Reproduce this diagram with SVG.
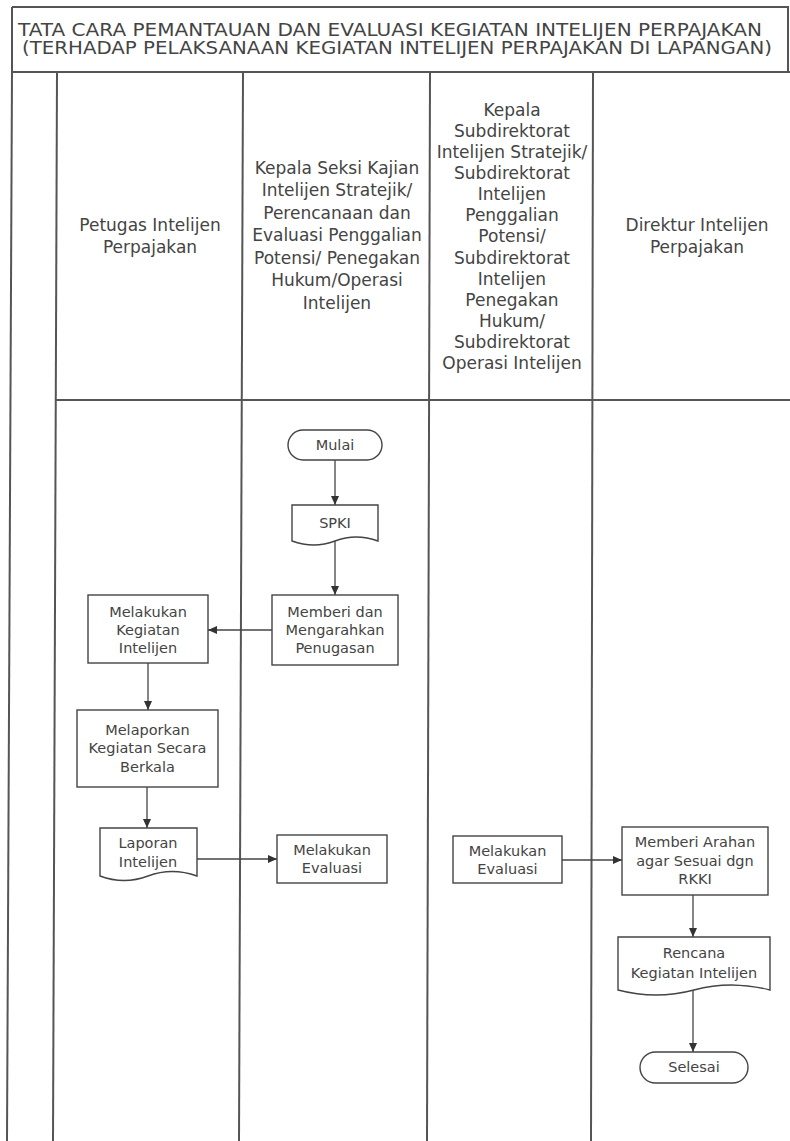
<svg xmlns="http://www.w3.org/2000/svg" width="790" height="1141" viewBox="0 0 790 1141">
  <style>
    .frame { fill: none; stroke: #555; stroke-width: 2; }
    .lane { fill: none; stroke: #555; stroke-width: 2; }
    .title { font-family: "DejaVu Sans", "Liberation Sans", sans-serif; font-size: 17px; fill: #444; }
    .head { font-family: "DejaVu Sans", "Liberation Sans", sans-serif; font-size: 17px; fill: #444; text-anchor: middle; }
    .shape { fill: #fff; stroke: #444; stroke-width: 1.4; }
    .lbl { font-family: "DejaVu Sans", "Liberation Sans", sans-serif; font-size: 14.5px; fill: #444; text-anchor: middle; }
    .conn { fill: none; stroke: #444; stroke-width: 1.3; marker-end: url(#arrow); }
  </style>
  <defs>
    <marker id="arrow" markerUnits="userSpaceOnUse" markerWidth="10" markerHeight="10" refX="9" refY="4" orient="auto">
      <path d="M0,0 L9,4 L0,8 Z" fill="#333"/>
    </marker>
  </defs>

  <rect width="790" height="1141" fill="#fff"/>

  <!-- title block -->
  <g id="title">
    <path class="frame" d="M12,7 H788 V72 M12,7 V72 M12,72 H790"/>
    <text class="title" x="18" y="36" textLength="744" lengthAdjust="spacingAndGlyphs">TATA CARA PEMANTAUAN DAN EVALUASI KEGIATAN INTELIJEN PERPAJAKAN</text>
    <text class="title" x="22" y="54" textLength="750" lengthAdjust="spacingAndGlyphs">(TERHADAP PELAKSANAAN KEGIATAN INTELIJEN PERPAJAKAN DI LAPANGAN)</text>
  </g>

  <!-- swimlane grid -->
  <g id="lanes">
    <line class="lane" x1="12" y1="72" x2="7" y2="1141"/>
    <line class="lane" x1="57" y1="72" x2="53" y2="1141"/>
    <line class="lane" x1="243" y1="72" x2="239" y2="1141"/>
    <line class="lane" x1="430" y1="72" x2="427" y2="1141"/>
    <line class="lane" x1="593" y1="72" x2="591" y2="1141"/>
    <line class="lane" x1="55" y1="400" x2="790" y2="400"/>
  </g>

  <!-- lane headers -->
  <g id="lane-petugas">
    <text class="head" x="150" y="231">Petugas Intelijen</text>
    <text class="head" x="150" y="253">Perpajakan</text>
  </g>
  <g id="lane-kasi">
    <text class="head" x="337" y="174">Kepala Seksi Kajian</text>
    <text class="head" x="337" y="196">Intelijen Stratejik/</text>
    <text class="head" x="337" y="219">Perencanaan dan</text>
    <text class="head" x="337" y="241">Evaluasi Penggalian</text>
    <text class="head" x="337" y="264">Potensi/ Penegakan</text>
    <text class="head" x="337" y="286">Hukum/Operasi</text>
    <text class="head" x="337" y="309">Intelijen</text>
  </g>
  <g id="lane-kasubdit">
    <text class="head" x="512" y="116">Kepala</text>
    <text class="head" x="512" y="137">Subdirektorat</text>
    <text class="head" x="512" y="158">Intelijen Stratejik/</text>
    <text class="head" x="512" y="179">Subdirektorat</text>
    <text class="head" x="512" y="200">Intelijen</text>
    <text class="head" x="512" y="221">Penggalian</text>
    <text class="head" x="512" y="242">Potensi/</text>
    <text class="head" x="512" y="264">Subdirektorat</text>
    <text class="head" x="512" y="285">Intelijen</text>
    <text class="head" x="512" y="306">Penegakan</text>
    <text class="head" x="512" y="327">Hukum/</text>
    <text class="head" x="512" y="348">Subdirektorat</text>
    <text class="head" x="512" y="369">Operasi Intelijen</text>
  </g>
  <g id="lane-direktur">
    <text class="head" x="697" y="231">Direktur Intelijen</text>
    <text class="head" x="697" y="253">Perpajakan</text>
  </g>

  <!-- connectors -->
  <g id="connectors">
    <line class="conn" x1="335" y1="460" x2="335" y2="505"/>
    <line class="conn" x1="335" y1="541" x2="335" y2="595"/>
    <line class="conn" x1="272" y1="630" x2="208" y2="630"/>
    <line class="conn" x1="148" y1="663" x2="148" y2="710"/>
    <line class="conn" x1="147" y1="787" x2="147" y2="828"/>
    <line class="conn" x1="197" y1="859" x2="277" y2="859"/>
    <line class="conn" x1="562" y1="860" x2="622" y2="860"/>
    <line class="conn" x1="693" y1="895" x2="693" y2="937"/>
    <line class="conn" x1="693" y1="990" x2="693" y2="1052"/>
  </g>

  <!-- nodes -->
  <g id="mulai">
    <rect class="shape" x="288" y="430" width="94" height="30" rx="15"/>
    <text class="lbl" x="335" y="450">Mulai</text>
  </g>
  <g id="spki">
    <path class="shape" d="M292,505 H378 V541 Q356,533 335,541 Q314,549 292,541 Z"/>
    <text class="lbl" x="335" y="528">SPKI</text>
  </g>
  <g id="memberi-penugasan">
    <rect class="shape" x="272" y="595" width="126" height="70"/>
    <text class="lbl" x="335" y="617">Memberi dan</text>
    <text class="lbl" x="335" y="635">Mengarahkan</text>
    <text class="lbl" x="335" y="653">Penugasan</text>
  </g>
  <g id="melakukan-kegiatan">
    <rect class="shape" x="88" y="595" width="120" height="68"/>
    <text class="lbl" x="148" y="617">Melakukan</text>
    <text class="lbl" x="148" y="635">Kegiatan</text>
    <text class="lbl" x="148" y="653">Intelijen</text>
  </g>
  <g id="melaporkan">
    <rect class="shape" x="77" y="710" width="141" height="77"/>
    <text class="lbl" x="147.5" y="735">Melaporkan</text>
    <text class="lbl" x="147.5" y="753">Kegiatan Secara</text>
    <text class="lbl" x="147.5" y="772">Berkala</text>
  </g>
  <g id="laporan-intelijen">
    <path class="shape" d="M100,828 H197 V876 Q172,867 148,876 Q124,885 100,876 Z"/>
    <text class="lbl" x="148" y="848">Laporan</text>
    <text class="lbl" x="148" y="867">Intelijen</text>
  </g>
  <g id="evaluasi-kasi">
    <rect class="shape" x="277" y="835" width="110" height="48"/>
    <text class="lbl" x="332" y="855">Melakukan</text>
    <text class="lbl" x="332" y="873">Evaluasi</text>
  </g>
  <g id="evaluasi-kasubdit">
    <rect class="shape" x="453" y="836" width="109" height="47"/>
    <text class="lbl" x="507.5" y="856">Melakukan</text>
    <text class="lbl" x="507.5" y="874">Evaluasi</text>
  </g>
  <g id="memberi-arahan">
    <rect class="shape" x="622" y="827" width="146" height="68"/>
    <text class="lbl" x="695" y="847">Memberi Arahan</text>
    <text class="lbl" x="695" y="866">agar Sesuai dgn</text>
    <text class="lbl" x="695" y="884">RKKI</text>
  </g>
  <g id="rencana-kegiatan">
    <path class="shape" d="M618,937 H770 V990 Q731,980 694,990 Q656,1000 618,990 Z"/>
    <text class="lbl" x="694" y="958">Rencana</text>
    <text class="lbl" x="694" y="978">Kegiatan Intelijen</text>
  </g>
  <g id="selesai">
    <rect class="shape" x="640" y="1052" width="108" height="31" rx="15.5"/>
    <text class="lbl" x="694" y="1072">Selesai</text>
  </g>
</svg>
